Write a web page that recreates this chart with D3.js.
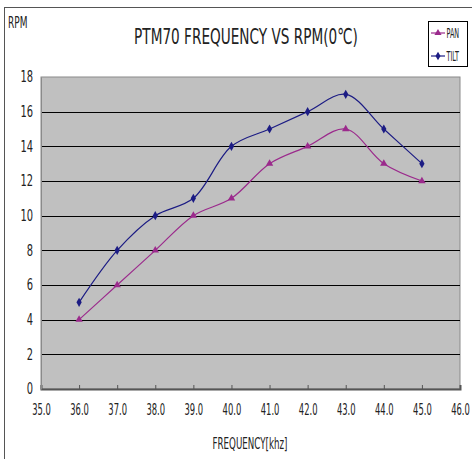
<!DOCTYPE html>
<html>
<head>
<meta charset="utf-8">
<script src="https://cdn.jsdelivr.net/npm/d3@7"></script>
<style>
  body { margin: 0; background: #fff; }
  svg text { font-family: "DejaVu Sans", sans-serif; fill: #222; }
</style>
</head>
<body>
<div id="chart"></div>
<script>
const freq = [36, 37, 38, 39, 40, 41, 42, 43, 44, 45];
const pan_rpm = [4, 6, 8, 10, 11, 13, 14, 15, 13, 12];
const tilt_rpm = [5, 8, 10, 11, 14, 15, 16, 17, 15, 13];
const x_ticks = [35, 36, 37, 38, 39, 40, 41, 42, 43, 44, 45, 46];
const y_ticks = [0, 2, 4, 6, 8, 10, 12, 14, 16, 18];

const width = 472, height = 459;
const margin = {top: 77, right: 12, bottom: 70, left: 41};

const svg = d3.select("#chart").append("svg")
    .attr("width", width)
    .attr("height", height);

// outer chart frame
svg.append("rect")
    .attr("x", 4.5).attr("y", 7.5)
    .attr("width", width + 10).attr("height", height + 10)
    .attr("fill", "#fff")
    .attr("stroke", "#555");

var xScale = d3.scaleLinear().domain([35, 46]).range([margin.left, width - margin.right]);
var yScale = d3.scaleLinear().domain([0, 18]).range([height - margin.bottom, margin.top]);

// plot area
svg.append("rect")
    .attr("x", xScale(35)).attr("y", yScale(18))
    .attr("width", xScale(46) - xScale(35))
    .attr("height", yScale(0) - yScale(18))
    .attr("fill", "#c0c0c0")
    .attr("stroke", "#8a8a8a");

/* сітка */
svg.selectAll(".grid")
    .data(y_ticks.filter(d => d > 0 && d < 18))
    .enter().append("line")
    .attr("class", "grid")
    .attr("x1", xScale(35)).attr("x2", xScale(46))
    .attr("y1", d => Math.round(yScale(d)) + 0.5)
    .attr("y2", d => Math.round(yScale(d)) + 0.5)
    .attr("stroke", "#000")
    .attr("stroke-width", 1.2);

// axes (text squeezed to look like the narrow original font)
const sx_x = 0.56, sx_y = 0.66;

var xAxis = d3.axisBottom(xScale).tickValues(x_ticks).tickSize(-4).tickPadding(15)
    .tickFormat(d3.format(".1f"));
var gx = svg.append("g")
    .attr("transform", "translate(0," + (yScale(0)) + ")")
    .call(xAxis);
gx.select(".domain").attr("stroke", "#555").attr("stroke-width", 2);
gx.selectAll(".tick line").attr("stroke", "#555");
gx.selectAll("text")
    .attr("font-size", 15)
    .attr("fill", "#333")
    .attr("x", 0)
    .attr("transform", "scale(" + sx_x + ",1)");

var yAxis = d3.axisLeft(yScale).tickValues(y_ticks).tickSize(0).tickPadding(8);
var gy = svg.append("g")
    .attr("transform", "translate(" + xScale(35) + ",0)")
    .call(yAxis);
gy.select(".domain").attr("stroke", "#8a8a8a");
gy.selectAll("text")
    .attr("font-size", 15)
    .attr("fill", "#333")
    .attr("x", -8 / sx_y)
    .attr("transform", "scale(" + sx_y + ",1)");

// lines
var line = d3.line()
    .x((d, i) => xScale(freq[i]))
    .y(d => yScale(d))
    .curve(d3.curveCatmullRom.alpha(0.5));

const series = [
    {name: "PAN", values: pan_rpm, color: "#9b2a8c", marker: d3.symbolTriangle},
    {name: "TILT", values: tilt_rpm, color: "#1c1c84", marker: d3.symbolDiamond}
];

series.forEach(function(s){
    svg.append("path")
        .attr("d", line(s.values))
        .attr("fill", "none")
        .attr("stroke", s.color)
        .attr("stroke-width", 1.2);

    svg.selectAll(".m-" + s.name)
        .data(s.values)
        .enter().append("path")
        .attr("class", "m-" + s.name)
        .attr("transform", (d, i) => "translate(" + xScale(freq[i]) + "," + yScale(d) + ")")
        .attr("d", d3.symbol().type(s.marker).size(24))
        .attr("fill", s.color);
});

// titles
svg.append("text")
    .attr("transform", "translate(246,44) scale(0.62,1)")
    .attr("text-anchor", "middle")
    .attr("font-size", 22)
    .text("PTM70 FREQUENCY VS RPM(0℃)");

svg.append("text")
    .attr("transform", "translate(8,28) scale(0.6,1)")
    .attr("font-size", 15)
    .text("RPM");

svg.append("text")
    .attr("transform", "translate(250,449) scale(0.58,1)")
    .attr("text-anchor", "middle")
    .attr("font-size", 15)
    .text("FREQUENCY[khz]");

// legend
var legend = svg.append("g").attr("transform", "translate(428,21)");
legend.append("rect")
    .attr("x", 0.5).attr("y", 0.5)
    .attr("width", 39).attr("height", 45)
    .attr("fill", "#fff").attr("stroke", "#000");

series.forEach(function(s, i){
    var ly = 12 + i * 23;
    legend.append("line")
        .attr("x1", 3).attr("x2", 17)
        .attr("y1", ly).attr("y2", ly)
        .attr("stroke", s.color).attr("stroke-width", 1.2);
    legend.append("path")
        .attr("transform", "translate(10," + ly + ")")
        .attr("d", d3.symbol().type(s.marker).size(22))
        .attr("fill", s.color);
    legend.append("text")
        .attr("transform", "translate(18.5," + (ly + 5) + ") scale(0.46,1)")
        .attr("font-size", 14)
        .text(s.name);
});
</script>
</body>
</html>
